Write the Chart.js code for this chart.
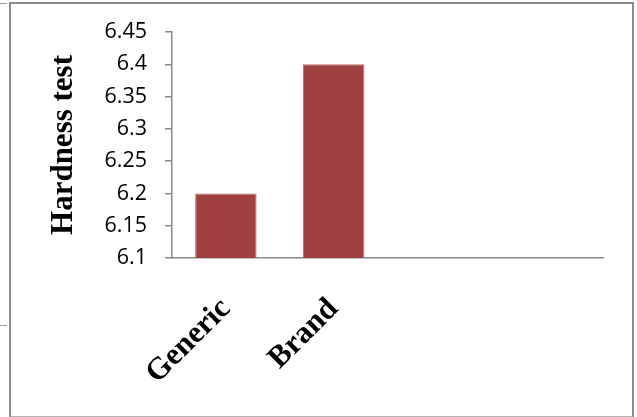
<!DOCTYPE html>
<html>
<head>
<meta charset="utf-8">
<script src="https://cdn.jsdelivr.net/npm/chart.js@4"></script>
<style>
  html, body { margin: 0; padding: 0; background: #fff; }
  body { width: 637px; height: 417px; position: relative; overflow: hidden; }
  #frame { position: absolute; left: 9px; top: 2px; width: 621px; height: 412px;
           border: 2px solid #8c8c8c; border-bottom-color: #b4b4b4; }
  .stub { position: absolute; left: 0; width: 7px; height: 1px; background: #9a9a9a; }
  #wrap { position: absolute; left: 0; top: 0; width: 637px; height: 417px; }
</style>
</head>
<body>
<div id="frame"></div>
<div class="stub" style="top:3px"></div>
<div class="stub" style="top:325px"></div>
<div id="wrap"><canvas id="chart-hardness"></canvas></div>
<script>
// Hardness test results per product
const categories = ['Generic', 'Brand', '', ''];
const hardness = [6.2, 6.4, null, null];
const yMin = 6.1;
const yMax = 6.45;
const yStep = 0.05;

const axisGrey = '#8a8a8a';

new Chart(document.getElementById('chart-hardness'), {
    type: 'bar',
    data: {
        labels: categories,
        datasets: [{
            data: hardness,
            backgroundColor: '#9E4140',
            borderColor: '#b86a69',
            borderWidth: 1,
            categoryPercentage: 1,
            barPercentage: 0.57
        }]
    },
    options: {
        responsive: true,
        maintainAspectRatio: false,
        animation: false,
        layout: { padding: { top: 32, right: 34, bottom: 0, left: 0 } },
        plugins: {
            legend: { display: false },
            tooltip: { enabled: false }
        },
        scales: {
            y: {
                min: yMin,
                max: yMax,
                afterFit: (scale) => { scale.width = 172; },
                ticks: {
                    stepSize: yStep,
                    padding: 18,
                    color: '#000',
                    font: { family: '"Open Sans", sans-serif', size: 21.5 },
                    callback: (v) => String(Number(v.toFixed(2)))
                },
                grid: { drawOnChartArea: false, drawTicks: true, tickLength: 7, color: axisGrey, lineWidth: 1.5 },
                border: { display: true, color: axisGrey, width: 1.5 },
                title: {
                    display: true,
                    text: 'Hardness test',
                    color: '#000',
                    font: { family: '"Liberation Serif", "Times New Roman", serif', size: 31, weight: 'bold' },
                    padding: { top: 45, bottom: 0 }
                }
            },
            x: {
                afterFit: (scale) => { scale.height = 159; },
                ticks: {
                    autoSkip: false,
                    minRotation: 45,
                    maxRotation: 45,
                    padding: 25,
                    color: '#000',
                    font: { family: '"Liberation Serif", "Times New Roman", serif', size: 31, weight: 'bold' }
                },
                grid: { display: false },
                border: { display: true, color: axisGrey, width: 1.5 }
            }
        }
    }
});
</script>
</body>
</html>
